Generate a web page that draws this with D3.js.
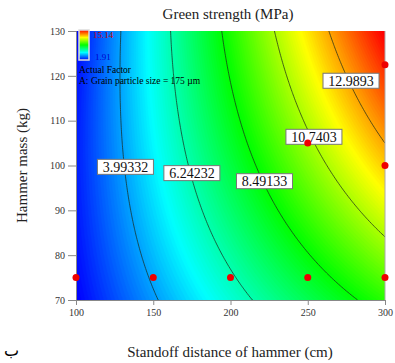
<!DOCTYPE html>
<html>
<head>
<meta charset="utf-8">
<script src="https://cdn.jsdelivr.net/npm/d3@7"></script>
<style>
  body { margin: 0; background: #fff; }
  svg { display: block; font-family: "Liberation Serif", "Times New Roman", serif; }
</style>
</head>
<body>
<svg id="chart" width="395" height="363"></svg>
<script>
// data
const standoffDomain = [100, 300];          // cm
const massDomain = [70, 130];               // kg
const xTicks = [100, 150, 200, 250, 300];
const yTicks = [70, 80, 90, 100, 110, 120, 130];
// fitted response surface (coded units), estimated from contour positions
// intercept, A, B, AB, A^2, B^2
const modelCoef = [7.66, 5.125, 1.565, 1.535, -0.3, -0.355];
const colorRange = [1.91, 15.14];
const contourLevels = [3.99332, 6.24232, 8.49133, 10.7403, 12.9893];
const labelStandoff = [132, 175, 222, 254, 278];
const labelMass = [99.7, 98.3, 96.5, 106.4, 118.9];
const designStandoff = [100, 150, 200, 250, 300, 250, 300, 300];
const designMass = [75, 75, 75, 75, 75, 105, 100, 122.5];

const margin = {top: 31, right: 10, bottom: 63, left: 76};
const width = 395, height = 363;
const svg = d3.select("#chart");

const x = d3.scaleLinear().domain(standoffDomain).range([margin.left, 385]);
const y = d3.scaleLinear().domain(massDomain).range([300, margin.top]);

const color = d3.scaleLinear()
  .domain(d3.range(5).map(i => colorRange[0] + i * (colorRange[1] - colorRange[0]) / 4))
  .range(["#0000ff", "#00ffff", "#00ff00", "#ffff00", "#ff0000"])
  .clamp(true);

function response(A, B) {
  const a = (A - 200) / 100, b = (B - 100) / 30;
  const c = modelCoef;
  return c[0] + c[1] * a + c[2] * b + c[3] * a * b + c[4] * a * a + c[5] * b * b;
}

// grid
const nx = 201, ny = 121;
const stepA = (standoffDomain[1] - standoffDomain[0]) / (nx - 1);
const stepB = (massDomain[1] - massDomain[0]) / (ny - 1);
const grid = new Array(nx * ny);
for (let j = 0; j < ny; j++) {
  for (let i = 0; i < nx; i++) {
    grid[j * nx + i] = response(standoffDomain[0] + i * stepA, massDomain[0] + j * stepB);
  }
}

const proj = d3.geoTransform({
  point(px, py) {
    this.stream.point(
      x(standoffDomain[0] + (px - 0.5) * stepA),
      y(massDomain[0] + (py - 0.5) * stepB));
  }
});
const path = d3.geoPath(proj);

svg.append("clipPath").attr("id", "plotclip")
  .append("rect")
  .attr("x", x(100)).attr("y", y(130))
  .attr("width", x(300) - x(100)).attr("height", y(70) - y(130));

const plot = svg.append("g").attr("clip-path", "url(#plotclip)");

plot.append("rect")
  .attr("x", x(100)).attr("y", y(130))
  .attr("width", x(300) - x(100)).attr("height", y(70) - y(130))
  .attr("fill", color(colorRange[0]));

const bandStep = 0.1;
const bands = d3.range(1.5, 15.6, bandStep);
plot.append("g")
  .selectAll("path")
  .data(d3.contours().size([nx, ny]).thresholds(bands)(grid))
  .enter().append("path")
    .attr("d", path)
    .attr("fill", d => color(d.value + bandStep / 2))
    .attr("stroke", d => color(d.value + bandStep / 2))
    .attr("stroke-width", 0.6);

plot.append("g")
  .selectAll("path")
  .data(d3.contours().size([nx, ny]).thresholds(contourLevels)(grid))
  .enter().append("path")
    .attr("d", path)
    .attr("fill", "none")
    .attr("stroke", "#1a2a1a")
    .attr("stroke-opacity", 0.8)
    .attr("stroke-width", 0.9);

// axes
const xAxis = d3.axisBottom(x).tickValues(xTicks).tickSize(5).tickPadding(4);
const yAxis = d3.axisLeft(y).tickValues(yTicks).tickSize(8).tickPadding(3);

svg.append("g")
    .attr("transform", `translate(0,${y(70)})`)
    .call(xAxis)
    .call(g => g.select(".domain").attr("stroke", "#888"))
    .call(g => g.selectAll(".tick line").attr("stroke", "#888"))
    .call(g => g.selectAll("text")
      .attr("fill", "#333")
      .style("font-size", "10px")
      .style("font-family", "Liberation Serif"));

svg.append("g")
    .attr("transform", `translate(${x(100)},0)`)
    .call(yAxis)
    .call(g => g.select(".domain").attr("stroke", "#888"))
    .call(g => g.selectAll(".tick line").attr("stroke", "#888"))
    .call(g => g.selectAll("text")
      .attr("fill", "#333")
      .style("font-size", "10px")
      .style("font-family", "Liberation Serif"));

svg.append("line")
  .attr("x1", x(300)).attr("x2", x(300))
  .attr("y1", y(130)).attr("y2", y(70))
  .attr("stroke", "#aaa");

// contour labels
const labels = svg.append("g")
  .selectAll("g")
  .data(contourLevels)
  .enter().append("g")
    .attr("transform", (d, i) => `translate(${x(labelStandoff[i])},${y(labelMass[i])})`);

labels.append("rect")
  .attr("x", -28).attr("y", -7.5)
  .attr("width", 56).attr("height", 15)
  .attr("fill", "#fff")
  .attr("stroke", "#777")
  .attr("stroke-width", 1);

labels.append("text")
  .attr("text-anchor", "middle")
  .attr("dy", "0.35em")
  .style("font-size", "14px")
  .attr("fill", "#111")
  .text(d => String(d));

// design points
svg.append("g")
  .selectAll("circle")
  .data(designStandoff)
  .enter().append("circle")
    .attr("cx", d => x(d))
    .attr("cy", (d, i) => y(designMass[i]))
    .attr("r", 3.5)
    .attr("fill", "#ee0000");

// legend
const grad = svg.append("defs").append("linearGradient")
  .attr("id", "legendgrad")
  .attr("x1", 0).attr("x2", 0).attr("y1", 1).attr("y2", 0);
grad.selectAll("stop")
  .data(color.domain())
  .enter().append("stop")
    .attr("offset", (d, i) => i / 4)
    .attr("stop-color", d => color(d));

svg.append("rect")
  .attr("x", 79).attr("y", 30)
  .attr("width", 10).attr("height", 30)
  .attr("fill", "url(#legendgrad)")
  .attr("stroke", "#ddd")
  .attr("stroke-width", 1.5);

svg.append("text")
  .attr("x", 93).attr("y", 38)
  .style("font-size", "9px")
  .attr("fill", "#cc0000")
  .text(colorRange[1].toFixed(2));

svg.append("text")
  .attr("x", 95).attr("y", 60)
  .style("font-size", "9px")
  .attr("fill", "#0000cc")
  .text(colorRange[0].toFixed(2));

svg.append("text")
  .attr("x", 79).attr("y", 73)
  .style("font-size", "9.5px")
  .text("Actual Factor");

svg.append("text")
  .attr("x", 79).attr("y", 84)
  .style("font-size", "9.5px")
  .text("A: Grain particle size = 175 µm");

// titles
svg.append("text")
  .attr("x", 228).attr("y", 19)
  .attr("text-anchor", "middle")
  .style("font-size", "15px")
  .attr("fill", "#222")
  .text("Green strength (MPa)");

svg.append("text")
  .attr("x", 230).attr("y", 357)
  .attr("text-anchor", "middle")
  .style("font-size", "15px")
  .attr("fill", "#222")
  .text("Standoff distance of hammer (cm)");

svg.append("text")
  .attr("transform", `translate(27,${(y(70) + y(130)) / 2}) rotate(-90)`)
  .attr("text-anchor", "middle")
  .style("font-size", "15px")
  .attr("fill", "#222")
  .text("Hammer mass (kg)");

svg.append("text")
  .attr("x", 4).attr("y", 356)
  .style("font-size", "16px")
  .style("font-family", "DejaVu Sans")
  .text("ب");
</script>
</body>
</html>
